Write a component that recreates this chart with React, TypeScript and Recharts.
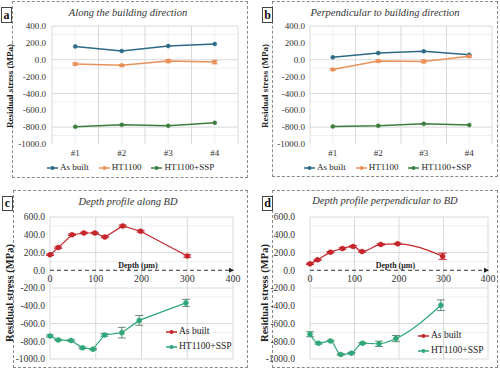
import {
  LineChart,
  Line,
  XAxis,
  YAxis,
  CartesianGrid,
  ErrorBar,
  ReferenceLine,
  ReferenceDot,
} from 'recharts'

const SERIF = '"Liberation Serif", "Times New Roman", serif'
const GRID_MAJOR = '#d9d9d9'
const GRID_MINOR = '#efefef'
const TEXT = '#333'

const AS_BUILT = '#2b6a86'
const HT = '#e8915a'
const SSP = '#3c7d3e'
const RED = '#c4262c'
const TEAL = '#2ea878'

// panels a / b
const positions = ['#1', '#2', '#3', '#4']
const stressTicks = [-1000, -800, -600, -400, -200, 0, 200, 400]
const stressMinor = [-900, -700, -500, -300, -100, 100, 300]

const alongAsBuilt = [158, 103, 162, 186]
const alongHT = [-51, -67, -16, -28]
const alongHTErr = [14, 10, 20, 20]
const alongSSP = [-796, -772, -784, -749]

const perpAsBuilt = [28, 79, 99, 59]
const perpHT = [-115, -16, -20, 40]
const perpHTErr = [10, 12, 18, 12]
const perpSSP = [-792, -784, -760, -776]

// panels c / d
const depthTicks = [0, 100, 200, 300, 400]
const depthGrid = [0, 50, 100, 150, 200, 250, 300, 350, 400]
const depthStressTicks = [-1000, -800, -600, -400, -200, 0, 200, 400, 600]
const depthStressMinor = [-900, -700, -500, -300, -100, 100, 300, 500]

const alongDepthAB = [0, 18, 48, 74, 98, 120, 159, 198, 300]
const alongStressAB = [175, 255, 400, 420, 420, 375, 500, 440, 160]
const alongErrAB = [8, 8, 8, 8, 8, 8, 10, 10, 14]
const alongDepthSSP = [0, 18, 46, 71, 94, 119, 157, 195, 297]
const alongStressSSP = [-740, -785, -792, -874, -889, -729, -703, -565, -368]
const alongErrSSP = [12, 8, 8, 10, 8, 15, 60, 55, 40]

const perpDepthAB = [0, 17, 46, 73, 97, 117, 159, 197, 298]
const perpStressAB = [72, 117, 204, 245, 268, 211, 291, 298, 158]
const perpErrAB = [8, 6, 8, 8, 8, 8, 8, 8, 35]
const perpDepthSSP = [0, 19, 46, 69, 93, 118, 155, 193, 294]
const perpStressSSP = [-721, -822, -796, -949, -934, -822, -829, -770, -394]
const perpErrSSP = [28, 10, 8, 8, 8, 8, 30, 35, 60]

type Item = { name: string; color: string }

function Key({ items, vertical, style }: { items: Item[]; vertical?: boolean; style: React.CSSProperties }) {
  return (
    <div
      style={{
        position: 'absolute',
        display: 'flex',
        flexDirection: vertical ? 'column' : 'row',
        gap: vertical ? 4 : 10,
        fontFamily: SERIF,
        fontSize: vertical ? 9.5 : 9,
        color: '#222',
        ...style,
      }}
    >
      {items.map((it) => (
        <div key={it.name} style={{ display: 'flex', alignItems: 'center', whiteSpace: 'nowrap', lineHeight: '11px' }}>
          <svg width={11} height={6} style={{ marginRight: 2 }}>
            <line x1={0} y1={3} x2={11} y2={3} stroke={it.color} strokeWidth={1.5} />
            <circle cx={5.5} cy={3} r={2} fill={it.color} />
          </svg>
          <span>{it.name}</span>
        </div>
      ))}
    </div>
  )
}

type FrameProps = {
  border: [number, number, number, number]
  box: [number, number, number, number]
  letter: string
  title: string
  titleAt: [number, number]
  yTitleAt: [number, number]
  yTitleSize: number
}

function Frame({ border, box, letter, title, titleAt, yTitleAt, yTitleSize }: FrameProps) {
  return (
    <>
      <div
        style={{
          position: 'absolute',
          left: border[0],
          top: border[1],
          width: border[2],
          height: border[3],
          border: '1px dashed #8a8a8a',
          boxSizing: 'border-box',
        }}
      />
      <div
        style={{
          position: 'absolute',
          left: box[0],
          top: box[1],
          width: box[2],
          height: box[3],
          border: '1px solid #444',
          background: '#fff',
          boxSizing: 'border-box',
          fontFamily: SERIF,
          fontWeight: 'bold',
          fontSize: 12,
          lineHeight: `${box[3] - 2}px`,
          textAlign: 'center',
          color: '#111',
        }}
      >
        {letter}
      </div>
      <div
        style={{
          position: 'absolute',
          left: titleAt[0] - 100,
          top: titleAt[1] - 7,
          width: 200,
          height: 14,
          lineHeight: '14px',
          textAlign: 'center',
          fontFamily: SERIF,
          fontStyle: 'italic',
          fontSize: 10.5,
          color: TEXT,
        }}
      >
        {title}
      </div>
      <div
        style={{
          position: 'absolute',
          left: yTitleAt[0] - 80,
          top: yTitleAt[1] - 7,
          width: 160,
          height: 14,
          lineHeight: '14px',
          textAlign: 'center',
          fontFamily: SERIF,
          fontWeight: 'bold',
          fontSize: yTitleSize,
          color: '#222',
          transform: 'rotate(-90deg)',
        }}
      >
        Residual stress (MPa)
      </div>
    </>
  )
}

const tickStyle = { fontSize: 9, fill: TEXT, fontFamily: SERIF, style: { fontFamily: SERIF } }
const fmt1 = (v: number) => v.toFixed(1)

function PositionChart({
  left,
  margin,
  yTickSize,
  asBuilt,
  ht,
  htErr,
  ssp,
}: {
  left: number
  margin: { top: number; right: number; bottom: number; left: number }
  yTickSize: number
  asBuilt: number[]
  ht: number[]
  htErr: number[]
  ssp: number[]
}) {
  const data = positions.map((p, i) => ({
    x: i + 1,
    label: p,
    asBuilt: asBuilt[i],
    ht: ht[i],
    htErr: htErr[i],
    ssp: ssp[i],
  }))
  const bounds = [0.5, 1.5, 2.5, 3.5, 4.5]
  const centres = [1, 2, 3, 4]
  return (
    <div style={{ position: 'absolute', left, top: 0, fontFamily: SERIF }}>
      <LineChart width={250} height={185} data={data} margin={margin}>
        <CartesianGrid stroke={GRID_MINOR} horizontalValues={stressMinor} verticalValues={centres} />
        <CartesianGrid stroke={GRID_MAJOR} horizontalValues={stressTicks} verticalValues={bounds} />
        <XAxis
          type="number"
          dataKey="x"
          domain={[0.5, 4.5]}
          ticks={centres}
          tickFormatter={(v: number) => positions[v - 1]}
          axisLine={false}
          tickLine={false}
          tick={tickStyle}
          tickSize={4}
          height={20}
        />
        <YAxis
          domain={[-1000, 400]}
          ticks={stressTicks}
          tickFormatter={fmt1}
          axisLine={false}
          tickLine={false}
          tick={tickStyle}
          tickSize={yTickSize}
          width={40}
        />
        <Line
          dataKey="asBuilt"
          stroke={AS_BUILT}
          strokeWidth={1.5}
          dot={{ r: 2, fill: AS_BUILT, stroke: AS_BUILT, strokeWidth: 0.5 }}
          isAnimationActive={false}
        />
        <Line
          dataKey="ht"
          stroke={HT}
          strokeWidth={1.5}
          dot={{ r: 2, fill: HT, stroke: HT, strokeWidth: 0.5 }}
          isAnimationActive={false}
        >
          <ErrorBar dataKey="htErr" width={3} stroke={HT} strokeWidth={1} direction="y" />
        </Line>
        <Line
          dataKey="ssp"
          stroke={SSP}
          strokeWidth={1.5}
          dot={{ r: 2, fill: SSP, stroke: SSP, strokeWidth: 0.5 }}
          isAnimationActive={false}
        />
      </LineChart>
    </div>
  )
}

function zip(depth: number[], stress: number[], err: number[]) {
  return depth.map((d, i) => ({ depth: d, stress: stress[i], err: err[i] }))
}

function DepthChart({
  left,
  margin,
  yTickSize,
  curve,
  ab,
  ssp,
}: {
  left: number
  margin: { top: number; right: number; bottom: number; left: number }
  yTickSize: number
  curve: 'linear' | 'monotone'
  ab: { depth: number; stress: number; err: number }[]
  ssp: { depth: number; stress: number; err: number }[]
}) {
  return (
    <div style={{ position: 'absolute', left, top: 185, fontFamily: SERIF }}>
      <LineChart width={250} height={184} margin={margin}>
        <CartesianGrid stroke={GRID_MINOR} horizontalValues={depthStressMinor} vertical={false} />
        <CartesianGrid stroke={GRID_MAJOR} horizontalValues={depthStressTicks} verticalValues={depthGrid} />
        <XAxis type="number" dataKey="depth" domain={[0, 400]} ticks={depthTicks} hide />
        <YAxis
          domain={[-1000, 600]}
          ticks={depthStressTicks}
          tickFormatter={fmt1}
          axisLine={false}
          tickLine={false}
          tick={{ ...tickStyle, fontSize: 9.5 }}
          tickSize={yTickSize}
          width={40}
        />
        <ReferenceLine y={0} stroke="#333" strokeDasharray="4 3" strokeWidth={1} />
        <ReferenceDot
          x={400}
          y={0}
          r={3}
          shape={(p: any) => (
            <path d={`M${p.cx - 4},${p.cy - 2.5} L${p.cx + 1},${p.cy} L${p.cx - 4},${p.cy + 2.5} Z`} fill="#222" />
          )}
        />
        {depthTicks.map((t) => (
          <ReferenceDot
            key={t}
            x={t}
            y={0}
            r={0.5}
            fill="none"
            stroke="none"
            label={{ value: String(t), position: 'bottom', offset: 4, fontSize: 10, fill: TEXT, fontFamily: SERIF }}
          />
        ))}
        <ReferenceDot
          x={192}
          y={0}
          r={0.5}
          fill="none"
          stroke="none"
          label={{
            value: 'Depth (μm)',
            position: 'top',
            offset: 2,
            fontSize: 8,
            fontWeight: 'bold',
            fill: '#222',
            fontFamily: SERIF,
          }}
        />
        <Line
          data={ab}
          dataKey="stress"
          name="As built"
          type={curve}
          stroke={RED}
          strokeWidth={1.2}
          dot={{ r: 2.5, fill: RED, stroke: RED, strokeWidth: 0.5 }}
          isAnimationActive={false}
        >
          <ErrorBar dataKey="err" width={4} stroke={RED} strokeWidth={1} direction="y" />
        </Line>
        <Line
          data={ssp}
          dataKey="stress"
          name="HT1100+SSP"
          type={curve}
          stroke={TEAL}
          strokeWidth={1.2}
          dot={{ r: 2.5, fill: TEAL, stroke: TEAL, strokeWidth: 0.5 }}
          isAnimationActive={false}
        >
          <ErrorBar dataKey="err" width={4} stroke="#3f6f5a" strokeWidth={0.8} direction="y" />
        </Line>
      </LineChart>
    </div>
  )
}

const topItems: Item[] = [
  { name: 'As built', color: AS_BUILT },
  { name: 'HT1100', color: HT },
  { name: 'HT1100+SSP', color: SSP },
]
const depthItems: Item[] = [
  { name: 'As built', color: RED },
  { name: 'HT1100+SSP', color: TEAL },
]

export default function App() {
  return (
    <div
      style={{
        position: 'absolute',
        left: 0,
        top: 0,
        width: 500,
        height: 369,
        background: '#fff',
        overflow: 'hidden',
        fontFamily: SERIF,
      }}
    >
      {/* a */}
      <Frame
        border={[12, 1, 236, 177]}
        box={[1, 7, 11, 16]}
        letter="a"
        title="Along the building direction"
        titleAt={[128, 13]}
        yTitleAt={[10, 86]}
        yTitleSize={9}
      />
      <PositionChart
        left={0}
        margin={{ top: 26, right: 12, bottom: 21, left: 12 }}
        yTickSize={4}
        asBuilt={alongAsBuilt}
        ht={alongHT}
        htErr={alongHTErr}
        ssp={alongSSP}
      />
      <Key items={topItems} style={{ left: 47, top: 162 }} />

      {/* b */}
      <Frame
        border={[272, 1, 226, 176]}
        box={[262, 7, 11, 16]}
        letter="b"
        title="Perpendicular to building direction"
        titleAt={[385, 13]}
        yTitleAt={[265, 86]}
        yTitleSize={9}
      />
      <PositionChart
        left={250}
        margin={{ top: 26, right: 8, bottom: 21, left: 20 }}
        yTickSize={3}
        asBuilt={perpAsBuilt}
        ht={perpHT}
        htErr={perpHTErr}
        ssp={perpSSP}
      />
      <Key items={topItems} style={{ left: 304, top: 162 }} />

      {/* c */}
      <Frame
        border={[13, 190, 235, 178]}
        box={[2, 196, 11, 15]}
        letter="c"
        title="Depth profile along BD"
        titleAt={[128, 202]}
        yTitleAt={[10, 293]}
        yTitleSize={10.5}
      />
      <DepthChart
        left={0}
        margin={{ top: 32, right: 17, bottom: 10, left: 10 }}
        yTickSize={3}
        curve="linear"
        ab={zip(alongDepthAB, alongStressAB, alongErrAB)}
        ssp={zip(alongDepthSSP, alongStressSSP, alongErrSSP)}
      />
      <Key items={depthItems} vertical style={{ left: 166, top: 326 }} />

      {/* d */}
      <Frame
        border={[272, 190, 226, 178]}
        box={[262, 196, 11, 15]}
        letter="d"
        title="Depth profile perpendicular to BD"
        titleAt={[385, 201]}
        yTitleAt={[265, 293]}
        yTitleSize={10.5}
      />
      <DepthChart
        left={250}
        margin={{ top: 32, right: 12, bottom: 10, left: 20 }}
        yTickSize={13}
        curve="monotone"
        ab={zip(perpDepthAB, perpStressAB, perpErrAB)}
        ssp={zip(perpDepthSSP, perpStressSSP, perpErrSSP)}
      />
      <Key items={depthItems} vertical style={{ left: 418, top: 330 }} />
    </div>
  )
}
